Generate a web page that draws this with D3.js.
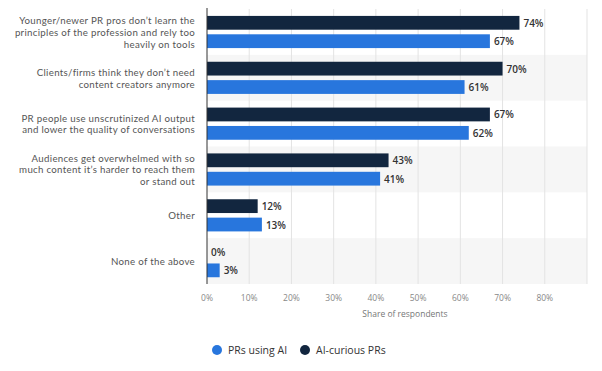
<!DOCTYPE html>
<html>
<head>
<meta charset="utf-8">
<script src="https://cdn.jsdelivr.net/npm/d3@7"></script>
<style>
  body { margin: 0; background: #fff; }
  svg text { font-family: "Open Sans", sans-serif; }
  svg text.cat { font-family: Lato, "Open Sans", sans-serif; letter-spacing: 0.3px; }
</style>
</head>
<body>
<svg id="chart" width="602" height="371"></svg>
<script>
// chart values
var categories = [
    ["Younger/newer PR pros don\u2019t learn the", "principles of the profession and rely too", "heavily on tools"],
    ["Clients/firms think they don\u2019t need", "content creators anymore"],
    ["PR people use unscrutinized AI output", "and lower the quality of conversations"],
    ["Audiences get overwhelmed with so", "much content it\u2019s harder to reach them", "or stand out"],
    ["Other"],
    ["None of the above"]
];
var seriesNames = ["AI-curious PRs", "PRs using AI"];
var aiCurious = [74, 70, 67, 43, 12, 0];
var usingAI = [67, 61, 62, 41, 13, 3];
var xTicks = [0, 10, 20, 30, 40, 50, 60, 70, 80];
var legendOrder = ["PRs using AI", "AI-curious PRs"];

var colors = { "AI-curious PRs": "#12263f", "PRs using AI": "#2876dd" };

var svg = d3.select("#chart");
var plotLeft = 207, plotRight = 587, plotTop = 9, plotBottom = 284;

var x = d3.scaleLinear().domain([0, 90]).range([plotLeft, plotRight]);
var y0 = d3.scaleBand().domain(d3.range(categories.length)).range([plotTop, plotBottom]);
var y1 = d3.scaleBand().domain(seriesNames).range([6, 40]).paddingInner(0.25).paddingOuter(0.05);

var rows = categories.map(function(c, i) {
    return { i: i, lines: c, values: [
        { name: "AI-curious PRs", v: aiCurious[i] },
        { name: "PRs using AI", v: usingAI[i] }
    ] };
});

// alternating row bands
svg.append("g").selectAll("rect")
    .data(rows.filter(function(d) { return d.i % 2 === 1; }))
    .enter().append("rect")
    .attr("x", plotLeft)
    .attr("y", function(d) { return y0(d.i); })
    .attr("width", plotRight - plotLeft)
    .attr("height", y0.bandwidth())
    .attr("fill", "#f6f6f6");

// vertical gridlines
svg.append("g").selectAll("line")
    .data(xTicks.slice(1).concat([90]))
    .enter().append("line")
    .attr("x1", function(d) { return x(d); })
    .attr("x2", function(d) { return x(d); })
    .attr("y1", plotTop)
    .attr("y2", plotBottom)
    .attr("stroke", "#e3e3e3")
    .attr("stroke-width", 1);

// bars
var rowG = svg.append("g").selectAll("g")
    .data(rows)
    .enter().append("g")
    .attr("transform", function(d) { return "translate(0," + y0(d.i) + ")"; });

rowG.selectAll("rect")
    .data(function(d) { return d.values; })
    .enter().append("rect")
    .attr("x", x(0))
    .attr("y", function(d) { return y1(d.name); })
    .attr("width", function(d) { return x(d.v) - x(0); })
    .attr("height", y1.bandwidth())
    .attr("fill", function(d) { return colors[d.name]; });

rowG.selectAll("text.val")
    .data(function(d) { return d.values; })
    .enter().append("text")
    .attr("class", "val")
    .attr("x", function(d) { return x(d.v) + 4; })
    .attr("y", function(d) { return y1(d.name) + y1.bandwidth() / 2; })
    .attr("dominant-baseline", "central")
    .attr("font-size", "10px")
    .attr("font-weight", "600")
    .attr("fill", "#333")
    .text(function(d) { return d.v + "%"; });

// category labels
rowG.append("text")
    .attr("class", "cat")
    .attr("text-anchor", "end")
    .attr("font-size", "9.7px")
    .attr("fill", "#555")
    .each(function(d) {
        var t = d3.select(this);
        var lh = 11.7;
        var start = y0.bandwidth() / 2 - (d.lines.length - 1) * lh / 2;
        d.lines.forEach(function(line, k) {
            t.append("tspan")
                .attr("x", 195)
                .attr("y", start + k * lh)
                .attr("dominant-baseline", "central")
                .text(line);
        });
    });

// axis line
svg.append("line")
    .attr("x1", plotLeft).attr("x2", plotLeft)
    .attr("y1", plotTop - 1).attr("y2", plotBottom)
    .attr("stroke", "#333")
    .attr("stroke-width", 1);

// x tick labels
svg.append("g").selectAll("text")
    .data(xTicks)
    .enter().append("text")
    .attr("x", function(d) { return x(d); })
    .attr("y", 297)
    .attr("text-anchor", "middle")
    .attr("dominant-baseline", "central")
    .attr("font-size", "8.5px")
    .attr("fill", "#888")
    .text(function(d) { return d + "%"; });

svg.append("text")
    .attr("x", (plotLeft + plotRight) / 2 + 8)
    .attr("y", 313)
    .attr("text-anchor", "middle")
    .attr("dominant-baseline", "central")
    .attr("font-size", "8.5px")
    .attr("fill", "#777")
    .text("Share of respondents");

// legend
var legend = svg.append("g").attr("transform", "translate(217,350)");
var legX = [0, 88];
legendOrder.forEach(function(name, k) {
    var g = legend.append("g").attr("transform", "translate(" + legX[k] + ",0)");
    g.append("circle").attr("r", 5).attr("fill", colors[name]);
    g.append("text")
        .attr("x", 11)
        .attr("dominant-baseline", "central")
        .attr("font-size", "10.5px")
        .attr("fill", "#333")
        .text(name);
});
</script>
</body>
</html>
